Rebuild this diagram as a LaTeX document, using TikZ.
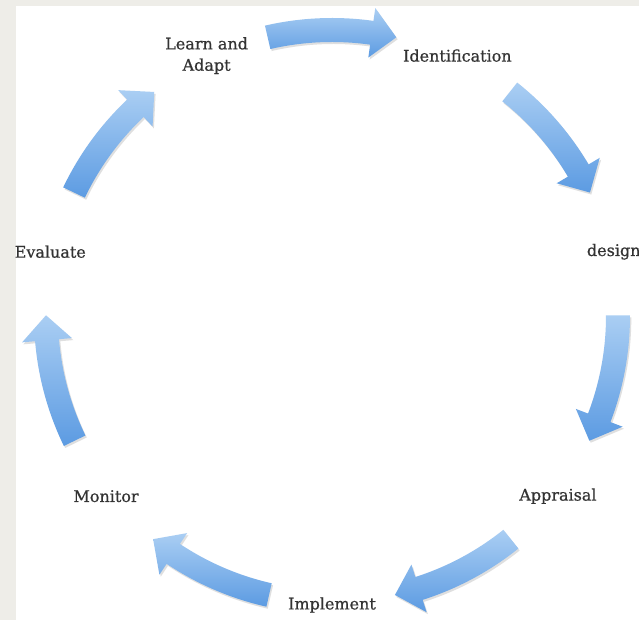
\documentclass[tikz,border=0pt]{standalone}
\usepackage{fontspec}
\setmainfont{DejaVu Serif}
\newfontfamily\stagefont{DejaVu Serif}[FakeBold=0.7]
\usepackage{xcolor}
\usepackage{tikz}
\usetikzlibrary{shadows}

\definecolor{arrowtop}{RGB}{170,206,243}
\definecolor{arrowbot}{RGB}{92,155,226}
\definecolor{framegray}{RGB}{238,237,232}

\begin{document}
\begin{tikzpicture}[x=0.75pt, y=0.75pt,
  stage/.style={font=\stagefont\fontsize{12}{16}\selectfont, text=black!80, align=center, inner sep=0pt},
  cyclearrow/.style={top color=arrowtop, bottom color=arrowbot,
    drop shadow={opacity=0.25, shadow xshift=1pt, shadow yshift=-1.5pt}}]
  % ── Frame ──
  \fill[framegray] (-332,-304) rectangle (307,316);
  \fill[white] (-316,-304) rectangle (307,310);
  \useasboundingbox (-332,-304) rectangle (307,316);

  % ── Stage labels on a circle ──
  \foreach \i/\name/\txt in {
      0/implement/Implement,
      1/monitor/Monitor,
      2/evaluate/Evaluate,
      3/learn/{Learn and\\Adapt},
      4/identify/Identification,
      5/design/design,
      6/appraisal/Appraisal} {
    \node[stage] (\name) at ({-90-\i*360/7}:289) {\txt};
  }

  % ── Curved arrows between stages ──
  \foreach \i in {0,...,6} {
    \pgfmathsetmacro{\amid}{-90-(\i+0.5)*360/7}
    \pgfmathsetmacro{\astart}{\amid+13}
    \pgfmathsetmacro{\atip}{\amid-13}
    \pgfmathsetmacro{\ahead}{\atip+5}
    \shade[cyclearrow]
      (\astart:298) arc[start angle=\astart, end angle=\ahead, radius=298]
      -- (\ahead:311) -- (\atip:286) -- (\ahead:261)
      -- (\ahead:274) arc[start angle=\ahead, end angle=\astart, radius=274] -- cycle;
  }
\end{tikzpicture}
\end{document}
